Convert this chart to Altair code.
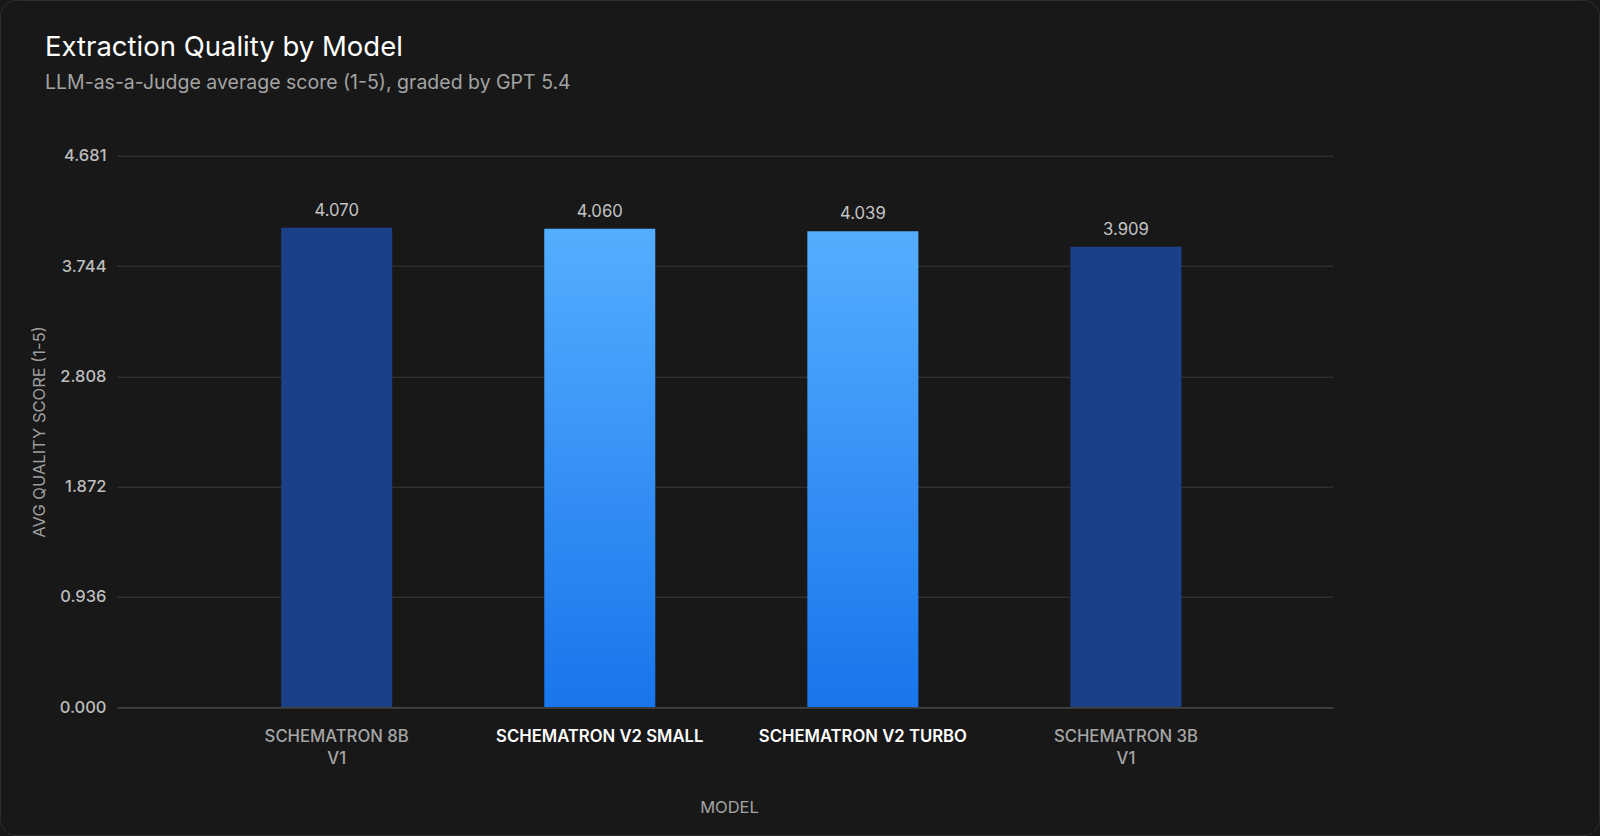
import altair as alt
import pandas as pd

models = ["SCHEMATRON 8B V1", "SCHEMATRON V2 SMALL", "SCHEMATRON V2 TURBO", "SCHEMATRON 3B V1"]
scores = [4.070, 4.060, 4.039, 3.909]
generation = ["V1", "V2", "V2", "V1"]
y_ticks = [0.0, 0.9361, 1.8722, 2.8083, 3.7444, 4.6806]
y_max = 4.6806

df = pd.DataFrame({"model": models, "score": scores, "gen": generation})

FONT = "Inter"

x_enc = alt.X(
    "model:N",
    sort=models,
    scale=alt.Scale(domain=models, paddingInner=0.578, paddingOuter=0.6, align=0.52),
    axis=alt.Axis(
        title="MODEL",
        labelAngle=0,
        labelLimit=400,
        labelFontSize=16.7,
        labelFont=FONT,
        labelLineHeight=22,
        labelPadding=21,
        labelExpr="indexof(datum.label, ' V1') > 0 ? [replace(datum.label, ' V1', ''), 'V1'] : datum.label",
        labelColor={"condition": {"test": "indexof(datum.value, 'V2') >= 0", "value": "#ffffff"}, "value": "#a6a6a6"},
        labelFontWeight={"condition": {"test": "indexof(datum.value, 'V2') >= 0", "value": 600}, "value": 500},
        ticks=False,
        domain=True,
        domainColor="#404040",
        domainWidth=1.5,
        grid=False,
        titleFont=FONT,
        titleFontSize=16.5,
        titleFontWeight="normal",
        titleColor="#a3a3a3",
        titleX=612,
        titleY=100,
        titleBaseline="middle",
        zindex=1,
    ),
)

y_enc = alt.Y(
    "score:Q",
    scale=alt.Scale(domain=[0, y_max], nice=False, zero=True),
    axis=alt.Axis(
        title="AVG QUALITY SCORE (1-5)",
        values=y_ticks,
        format=".3f",
        labelFont=FONT,
        labelFontSize=16.5,
        labelFontWeight=500,
        labelColor="#bdbdbd",
        labelPadding=11,
        ticks=False,
        domain=False,
        grid=True,
        gridColor="#3a3a3a",
        gridWidth=1,
        titleFont=FONT,
        titleFontSize=16.5,
        titleFontWeight="normal",
        titleColor="#9e9e9e",
        titleX=-78,
        titleY=275.8,
        titleAlign="center",
        titleBaseline="middle",
    ),
)

base = alt.Chart(df)

bars_v1 = base.transform_filter(alt.datum.gen == "V1").mark_bar(color="#1a4088").encode(x=x_enc, y=y_enc)

gradient = alt.Gradient(
    gradient="linear",
    stops=[alt.GradientStop(color="#1875ec", offset=0), alt.GradientStop(color="#54aeff", offset=1)],
    x1=1, x2=1, y1=1, y2=0,
)
bars_v2 = base.transform_filter(alt.datum.gen == "V2").mark_bar(color=gradient).encode(x=x_enc, y=y_enc)

labels = base.mark_text(
    font=FONT, fontSize=16.7, color="#c4c4c4", baseline="alphabetic", dy=-12
).encode(x=x_enc, y=y_enc, text=alt.Text("score:Q", format=".3f"))

frame = alt.Chart(pd.DataFrame({"k": [0]})).mark_rect(
    fillOpacity=0, stroke="#2e2e2e", strokeWidth=1, cornerRadius=16
).encode(
    x=alt.value(-116.5), x2=alt.value(1600 - 117 - 0.5),
    y=alt.value(-155.2), y2=alt.value(836 - 155.7 - 0.5),
)

chart = alt.layer(frame, bars_v1, bars_v2, labels).properties(
    width=1216,
    height=551.6,
    padding={"left": 117, "top": 155.7, "right": 267, "bottom": 128.7},
    autosize=alt.AutoSizeParams(type="none"),
    title=alt.TitleParams(
        text="Extraction Quality by Model",
        subtitle="LLM-as-a-Judge average score (1-5), graded by GPT 5.4",
        anchor="start",
        frame="group",
        dx=-72,
        offset=-92,
        font=FONT,
        fontSize=27.5,
        fontWeight=400,
        color="#ffffff",
        subtitleFont=FONT,
        subtitleFontSize=19.5,
        subtitleColor="#a3a3a3",
        subtitlePadding=12.5,
    ),
).configure(background="#181818").configure_view(stroke=None)

chart.save("out.html", embed_options={"renderer": "svg", "actions": False})
